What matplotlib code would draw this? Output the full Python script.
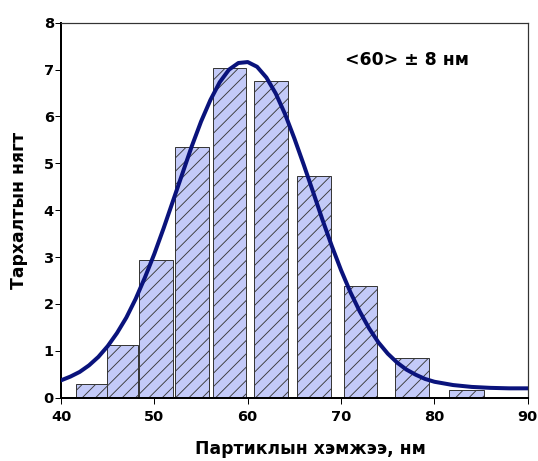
import matplotlib
matplotlib.use("Agg")
import matplotlib.pyplot as plt

# гистограмын баганууд (зүүн ба баруун хил, өндөр)
bar_left = [41.6, 44.9, 48.4, 52.2, 56.3, 60.7, 65.3, 70.3, 75.8, 81.6]
bar_right = [44.9, 48.3, 52.0, 55.8, 59.8, 64.3, 68.9, 73.9, 79.4, 85.3]
bar_height = [0.29, 1.13, 2.94, 5.34, 7.04, 6.76, 4.73, 2.38, 0.84, 0.16]

# тохируулсан муруйн цэгүүд (зурагнаас уншсан)
fit_x = [40, 41, 42, 43, 44, 45, 46, 47, 48, 49, 50, 51, 52, 53, 54, 55, 56, 57, 58, 59,
         60, 61, 62, 63, 64, 65, 66, 67, 68, 69, 70, 71, 72, 73, 74, 75, 76, 77, 78, 79,
         80, 82, 84, 86, 88, 90]
fit_y = [0.37, 0.45, 0.55, 0.69, 0.87, 1.10, 1.38, 1.71, 2.11, 2.57, 3.07, 3.62, 4.20, 4.78,
         5.36, 5.89, 6.35, 6.73, 7.00, 7.14, 7.16, 7.06, 6.83, 6.49, 6.05, 5.53, 4.97, 4.39,
         3.80, 3.24, 2.72, 2.25, 1.84, 1.48, 1.18, 0.94, 0.75, 0.60, 0.49, 0.40,
         0.34, 0.27, 0.23, 0.21, 0.20, 0.20]

x_ticks = [40, 50, 60, 70, 80, 90]
y_ticks = [0, 1, 2, 3, 4, 5, 6, 7, 8]

plt.rcParams['font.family'] = ['DejaVu Sans']
plt.rcParams['font.weight'] = 'bold'
plt.rcParams['hatch.color'] = '#3c3c3c'
plt.rcParams['hatch.linewidth'] = 0.8

fig = plt.figure(figsize=(6.725, 5.7625), dpi=80)
ax = fig.add_axes([0.1134, 0.1373, 0.8676, 0.8135])

widths = [r - l for l, r in zip(bar_left, bar_right)]
ax.bar(bar_left, bar_height, width=widths, align='edge', color='#c3caf8',
       edgecolor='#383838', linewidth=0.9, hatch='//', zorder=2)

ax.plot(fit_x, fit_y, color='#0a137c', linewidth=3.6, solid_capstyle='round',
        solid_joinstyle='round', zorder=3)

ax.set_xlim(40, 90)
ax.set_ylim(0, 8)
ax.set_xticks(x_ticks)
ax.set_yticks(y_ticks)
ax.tick_params(axis='x', direction='out', length=5.4, width=0.9, pad=6, labelsize=13)
ax.tick_params(axis='y', direction='out', length=5.4, width=0.9, pad=1, labelsize=13)
for lab in ax.get_xticklabels() + ax.get_yticklabels():
    lab.set_fontweight('bold')

for s in ['left', 'bottom']:
    ax.spines[s].set_linewidth(1.8)
    ax.spines[s].set_color('black')
for s in ['top', 'right']:
    ax.spines[s].set_linewidth(1.1)
    ax.spines[s].set_color('#333333')

ax.set_xlabel("Партиклын хэмжээ, нм", fontsize=15.5, fontweight='bold')
ax.xaxis.set_label_coords(0.535, -0.113)
ax.set_ylabel("Тархалтын нягт", fontsize=15.5, fontweight='bold')
ax.yaxis.set_label_coords(-0.07, 0.5)

ax.text(0.6085, 0.901, "<60> ± 8 нм", transform=ax.transAxes, fontsize=15.5,
        fontweight='bold', ha='left', va='center')

fig.savefig("out.png", dpi=80)
